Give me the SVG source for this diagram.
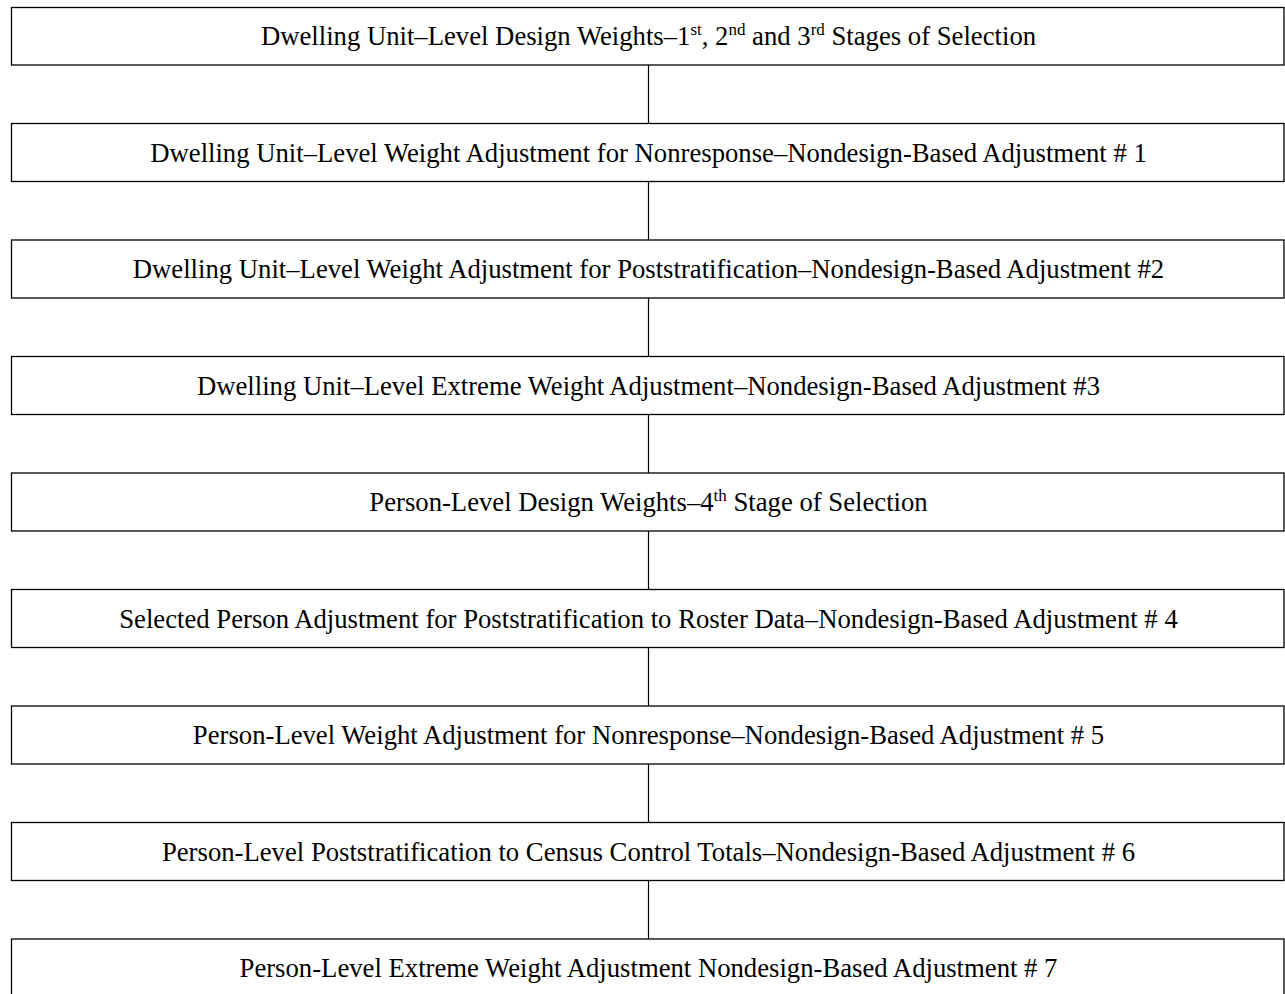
<svg xmlns="http://www.w3.org/2000/svg" width="1285" height="994" viewBox="0 0 1285 994">
<style>
.box{fill:#fff;stroke:#000;stroke-width:1.3}
.lbl{font-family:"Liberation Serif","Times New Roman",serif;font-size:26.7px;fill:#000;text-anchor:middle}
.sup{font-size:17px}
.conn{stroke:#000;stroke-width:1.2;fill:none}
</style>
<rect width="1285" height="994" fill="#fff"/>
<g id="connectors">
<line class="conn" x1="648.5" y1="65" x2="648.5" y2="123.5"/>
<line class="conn" x1="648.5" y1="181.5" x2="648.5" y2="240"/>
<line class="conn" x1="648.5" y1="298" x2="648.5" y2="356.5"/>
<line class="conn" x1="648.5" y1="414.5" x2="648.5" y2="473"/>
<line class="conn" x1="648.5" y1="531" x2="648.5" y2="589.5"/>
<line class="conn" x1="648.5" y1="647.5" x2="648.5" y2="706"/>
<line class="conn" x1="648.5" y1="764" x2="648.5" y2="822.5"/>
<line class="conn" x1="648.5" y1="880.5" x2="648.5" y2="939"/>
</g>
<g id="n1"><rect class="box" x="11.5" y="7.5" width="1272.5" height="57.5"/>
<text class="lbl" x="648.5" y="45">Dwelling Unit–Level Design Weights–1<tspan class="sup" dy="-10">st</tspan><tspan dy="10">, 2</tspan><tspan class="sup" dy="-10">nd</tspan><tspan dy="10"> and 3</tspan><tspan class="sup" dy="-10">rd</tspan><tspan dy="10"> Stages of Selection</tspan></text></g>
<g id="n2"><rect class="box" x="11.5" y="123.5" width="1272.5" height="58"/>
<text class="lbl" x="648.5" y="161.5">Dwelling Unit–Level Weight Adjustment for Nonresponse–Nondesign-Based Adjustment # 1</text></g>
<g id="n3"><rect class="box" x="11.5" y="240" width="1272.5" height="58"/>
<text class="lbl" x="648.5" y="278">Dwelling Unit–Level Weight Adjustment for Poststratification–Nondesign-Based Adjustment #2</text></g>
<g id="n4"><rect class="box" x="11.5" y="356.5" width="1272.5" height="58"/>
<text class="lbl" x="648.5" y="394.5">Dwelling Unit–Level Extreme Weight Adjustment–Nondesign-Based Adjustment #3</text></g>
<g id="n5"><rect class="box" x="11.5" y="473" width="1272.5" height="58"/>
<text class="lbl" x="648.5" y="511">Person-Level Design Weights–4<tspan class="sup" dy="-10">th</tspan><tspan dy="10"> Stage of Selection</tspan></text></g>
<g id="n6"><rect class="box" x="11.5" y="589.5" width="1272.5" height="58"/>
<text class="lbl" x="648.5" y="627.5">Selected Person Adjustment for Poststratification to Roster Data–Nondesign-Based Adjustment # 4</text></g>
<g id="n7"><rect class="box" x="11.5" y="706" width="1272.5" height="58"/>
<text class="lbl" x="648.5" y="744">Person-Level Weight Adjustment for Nonresponse–Nondesign-Based Adjustment # 5</text></g>
<g id="n8"><rect class="box" x="11.5" y="822.5" width="1272.5" height="58"/>
<text class="lbl" x="648.5" y="860.5">Person-Level Poststratification to Census Control Totals–Nondesign-Based Adjustment # 6</text></g>
<g id="n9"><rect class="box" x="11.5" y="939" width="1272.5" height="70"/>
<text class="lbl" x="648.5" y="977">Person-Level Extreme Weight Adjustment Nondesign-Based Adjustment # 7</text></g>
</svg>
